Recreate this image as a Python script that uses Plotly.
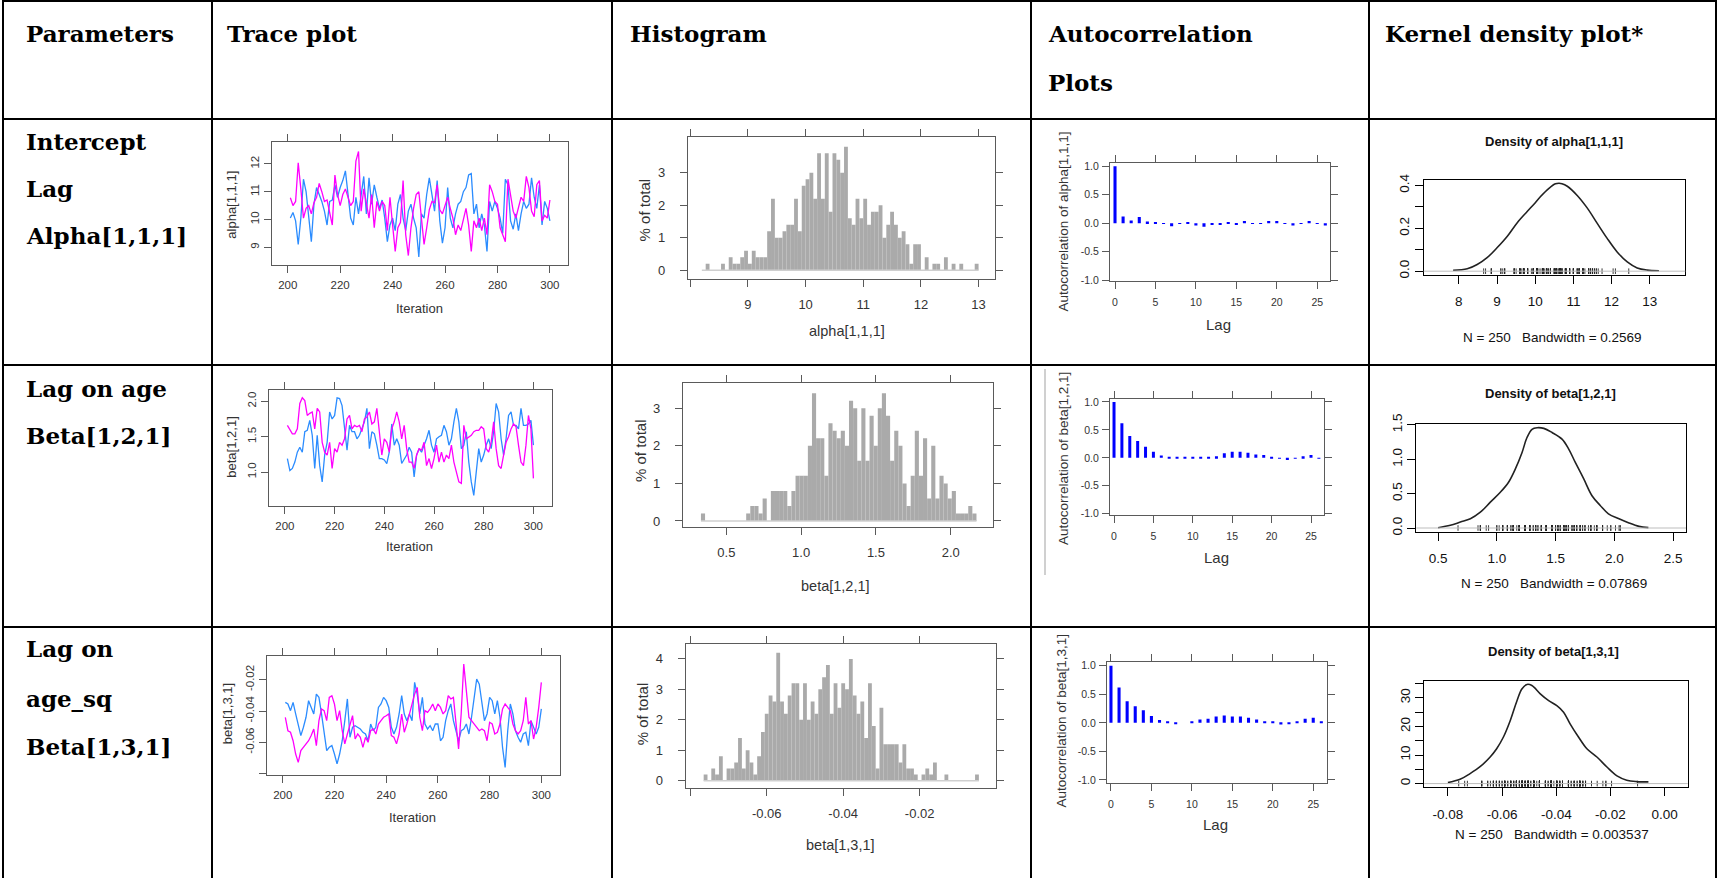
import plotly.graph_objects as go

W, H = 1718, 878

# ---------------- data ----------------
iterations = list(range(201, 301))

alpha_chain1 = [10.05, 10.25, 9.95, 9.1, 10.05, 11.45, 11.0, 10.05, 9.2, 10.55,
                11.15, 10.9, 10.65, 10.3, 9.8, 10.65, 10.7, 11.25, 10.8, 11.15,
                11.4, 11.75, 11.0, 10.05, 9.8, 10.8, 10.2, 10.9, 11.55, 10.2,
                11.5, 10.55, 11.25, 10.8, 10.4, 10.7, 10.05, 9.2, 9.8, 10.05,
                9.6, 10.55, 10.9, 10.05, 9.6, 10.3, 10.55, 10.05, 9.7, 8.65,
                10.2, 10.05, 10.9, 11.5, 10.8, 10.3, 11.4, 9.95, 9.15, 9.7,
                11.15, 10.05, 9.7, 10.2, 10.55, 10.65, 11.0, 11.15, 11.6, 11.65,
                10.2, 10.55, 9.7, 10.2, 9.8, 8.85, 10.65, 10.3, 10.65, 10.4,
                10.05, 9.5, 11.45, 11.25, 9.95, 9.65, 10.2, 9.6, 10.2, 10.65,
                10.4, 10.55, 11.5, 10.8, 10.4, 11.25, 9.8, 10.65, 10.4, 9.95]
alpha_chain2 = [10.78, 10.5, 10.65, 12.04, 11.1, 10.05, 10.4, 10.5, 10.2, 10.6,
                10.8, 11.3, 11.0, 10.65, 10.7, 10.3, 9.8, 11.6, 10.9, 10.5,
                10.9, 11.1, 10.8, 10.5, 10.65, 12.1, 12.45, 10.3, 11.1, 10.55,
                10.05, 10.9, 9.7, 10.65, 10.3, 10.65, 10.5, 9.6, 10.8, 9.8,
                8.85, 9.7, 9.9, 11.4, 9.45, 8.7, 9.7, 10.4, 10.9, 11.0,
                10.05, 9.1, 9.7, 10.35, 10.65, 10.6, 11.25, 10.35, 10.2, 10.55,
                10.8, 10.4, 10.05, 9.45, 9.8, 9.6, 9.95, 10.4, 9.8, 8.85,
                9.95, 9.7, 10.05, 9.6, 10.05, 9.45, 11.25, 11.0, 10.65, 10.55,
                9.7, 9.45, 9.2, 11.45, 10.9, 10.3, 10.05, 10.4, 10.8, 10.65,
                11.55, 11.15, 10.3, 10.1, 11.25, 11.4, 9.95, 10.15, 10.05, 10.7]

beta121_chain1 = [1.19, 1.02, 1.05, 1.14, 1.28, 1.35, 1.28, 1.57, 1.59, 1.73,
                  1.52, 1.05, 1.52, 1.09, 0.86, 1.24, 1.42, 1.85, 1.75, 1.80,
                  2.05, 2.04, 1.94, 1.61, 1.31, 1.66, 1.57, 1.57, 1.47, 1.52,
                  1.61, 1.71, 1.90, 1.33, 1.57, 1.54, 1.38, 1.19, 1.19, 1.17,
                  1.12, 1.28, 1.68, 1.38, 1.47, 1.38, 1.12, 1.19, 1.24, 1.35,
                  1.28, 0.93, 1.24, 1.33, 1.28, 1.38, 1.47, 1.59, 1.38, 1.28,
                  1.47, 1.50, 1.52, 1.66, 1.57, 1.38, 1.47, 1.71, 1.90, 1.71,
                  1.33, 1.38, 1.57, 1.14, 0.86, 0.67, 1.0, 1.33, 1.14, 1.24,
                  1.38, 1.47, 1.33, 1.57, 1.97, 1.85, 1.47, 1.24, 1.47, 1.80,
                  1.85, 1.66, 1.66, 1.61, 1.90, 1.66, 1.66, 1.68, 1.73, 1.38]
beta121_chain2 = [1.66, 1.59, 1.54, 1.54, 1.61, 1.97, 2.05, 2.01, 1.80, 1.83,
                  1.85, 1.61, 1.90, 1.85, 1.42, 1.28, 1.24, 1.42, 1.05, 1.33,
                  1.28, 1.42, 1.38, 1.47, 1.75, 1.80, 1.61, 1.66, 1.64, 1.66,
                  1.57, 1.75, 1.78, 1.85, 1.68, 1.71, 1.90, 1.57, 1.24, 1.47,
                  1.42, 1.28, 1.61, 1.71, 1.85, 1.71, 1.47, 1.66, 1.33, 1.14,
                  1.14, 1.05, 1.24, 1.33, 1.31, 1.42, 1.09, 1.19, 1.05, 1.19,
                  1.38, 1.14, 1.28, 1.14, 1.24, 1.19, 1.38, 1.14, 1.0, 0.86,
                  0.84, 1.66, 1.47, 1.50, 1.52, 1.57, 1.59, 1.59, 1.64, 1.61,
                  1.33, 1.28, 1.42, 1.71, 1.33, 1.09, 1.05, 1.24, 1.42, 1.50,
                  1.61, 1.68, 1.64, 1.38, 1.14, 1.09, 1.38, 1.80, 1.61, 0.91]

beta131_chain1 = [-0.0345, -0.0355, -0.0398, -0.0345, -0.0419, -0.0483, -0.0557, -0.0504, -0.0440, -0.0334,
                  -0.0377, -0.0419, -0.0292, -0.0313, -0.0419, -0.0526, -0.0653, -0.0632, -0.0621, -0.0675,
                  -0.0738, -0.0675, -0.0590, -0.0462, -0.0323, -0.0568, -0.0504, -0.0494, -0.0504, -0.0515,
                  -0.0536, -0.0547, -0.0590, -0.0483, -0.0526, -0.0504, -0.0377, -0.0355, -0.0313, -0.0334,
                  -0.0377, -0.0504, -0.0547, -0.0504, -0.0419, -0.0302, -0.0419, -0.0462, -0.0419, -0.0462,
                  -0.0217, -0.0292, -0.0419, -0.0313, -0.0483, -0.0515, -0.0494, -0.0526, -0.0483, -0.0483,
                  -0.0590, -0.0568, -0.0462, -0.0398, -0.0355, -0.0462, -0.0526, -0.0590, -0.0526, -0.0515,
                  -0.0483, -0.0547, -0.0440, -0.0313, -0.0196, -0.0228, -0.0355, -0.0462, -0.0419, -0.0313,
                  -0.0334, -0.0419, -0.0334, -0.0440, -0.0632, -0.0760, -0.0526, -0.0355, -0.0419, -0.0526,
                  -0.0568, -0.0600, -0.0547, -0.0536, -0.0621, -0.0462, -0.0504, -0.0547, -0.0504, -0.0387]
beta131_chain2 = [-0.0440, -0.0526, -0.0536, -0.0590, -0.0675, -0.0728, -0.0653, -0.0632, -0.0610, -0.0590,
                  -0.0557, -0.0515, -0.0621, -0.0462, -0.0387, -0.0398, -0.0462, -0.0313, -0.0302, -0.0355,
                  -0.0462, -0.0398, -0.0526, -0.0610, -0.0547, -0.0483, -0.0430, -0.0579, -0.0547, -0.0568,
                  -0.0632, -0.0568, -0.0600, -0.0526, -0.0515, -0.0547, -0.0483, -0.0462, -0.0440, -0.0430,
                  -0.0419, -0.0557, -0.0568, -0.0610, -0.0547, -0.0419, -0.0536, -0.0483, -0.0419, -0.0355,
                  -0.0292, -0.0249, -0.0440, -0.0526, -0.0398, -0.0409, -0.0387, -0.0355, -0.0398, -0.0355,
                  -0.0377, -0.0419, -0.0398, -0.0302, -0.0323, -0.0313, -0.0504, -0.0643, -0.0419, -0.0100,
                  -0.0270, -0.0440, -0.0462, -0.0483, -0.0504, -0.0526, -0.0515, -0.0526, -0.0590, -0.0472,
                  -0.0483, -0.0547, -0.0536, -0.0483, -0.0387, -0.0355, -0.0377, -0.0398, -0.0483, -0.0526,
                  -0.0547, -0.0526, -0.0462, -0.0313, -0.0483, -0.0462, -0.0579, -0.0504, -0.0377, -0.0217]

hist_alpha_start, hist_alpha_width = 8.2, 1 / 15
hist_alpha_pct = [0, 0.2, 0, 0, 0, 0.2, 0, 0.4, 0.2, 0.2,
                  0.4, 0.6, 0.2, 0.6, 0.4, 0.4, 0.4, 1.2, 2.2, 1.0,
                  1.0, 1.2, 1.4, 1.4, 2.2, 1.2, 2.6, 2.8, 3.0, 2.2,
                  3.6, 2.2, 3.6, 1.8, 3.6, 3.4, 3.0, 3.8, 1.6, 1.4,
                  2.2, 1.6, 2.2, 1.4, 1.8, 1.8, 2.0, 1.0, 1.4, 1.8,
                  1.4, 1.0, 1.2, 0.8, 0.2, 0.8, 0.8, 0, 0.4, 0,
                  0.2, 0.2, 0, 0.4, 0, 0.2, 0, 0.2, 0, 0,
                  0, 0.2]
hist_beta121_start, hist_beta121_width = 0.33, 0.0275
hist_beta121_pct = [0.2, 0, 0, 0, 0, 0, 0, 0, 0, 0,
                    0, 0.2, 0.4, 0.4, 0.2, 0.6, 0, 0.8, 0.8, 0.8,
                    0.8, 0.4, 0.8, 1.2, 1.2, 1.2, 2.0, 3.4, 2.2, 2.2,
                    1.2, 2.6, 2.4, 2.2, 2.4, 2.0, 3.2, 3.0, 1.6, 3.0,
                    1.6, 2.8, 2.0, 3.0, 3.4, 2.8, 1.6, 2.4, 2.0, 1.0,
                    0.4, 1.2, 2.4, 1.2, 2.2, 0.6, 2.0, 0.6, 1.2, 1.0,
                    0.6, 0.8, 0.2, 0.2, 0.2, 0.4, 0.2]
hist_beta131_start, hist_beta131_width = -0.0765, 0.001
hist_beta131_pct = [0.2, 0, 0.4, 0.2, 0.8, 0, 0.4, 0.4, 0.6, 1.4,
                    0.4, 1.0, 0.6, 0.2, 0.8, 1.6, 2.2, 2.8, 2.6, 4.2,
                    2.6, 2.2, 2.8, 3.2, 3.2, 2.0, 3.2, 2.0, 2.6, 2.2,
                    3.0, 3.4, 3.8, 2.2, 3.2, 2.4, 3.2, 3.0, 4.0, 2.8,
                    2.2, 2.6, 1.4, 3.2, 1.8, 0.4, 2.4, 1.2, 1.2, 1.2,
                    1.2, 0.6, 1.2, 0.4, 0.4, 0.2, 0, 0.2, 0.4, 0.2,
                    0.6, 0, 0, 0.2, 0, 0, 0, 0, 0, 0,
                    0, 0.2]

lags = list(range(0, 27))
acf_alpha = [1.0, 0.12, 0.05, 0.11, 0.03, 0.02, -0.01, -0.05, -0.01, 0.02,
             -0.04, -0.06, -0.02, -0.03, 0.02, -0.02, 0.04, -0.01, -0.01, 0.04,
             0.04, -0.01, -0.04, -0.01, 0.04, -0.01, -0.04]
acf_beta121 = [1.0, 0.62, 0.39, 0.30, 0.20, 0.11, 0.04, 0.01, 0.01, 0.01,
               0.02, 0.01, 0.01, 0.03, 0.08, 0.11, 0.11, 0.09, 0.06, 0.05,
               0.01, -0.01, -0.04, -0.01, 0.03, 0.05, -0.01]
acf_beta131 = [1.0, 0.62, 0.38, 0.29, 0.22, 0.12, 0.05, 0.03, -0.01, 0.0,
               0.01, 0.06, 0.07, 0.11, 0.13, 0.11, 0.11, 0.09, 0.06, 0.02,
               0.02, -0.03, -0.01, 0.02, 0.07, 0.09, 0.03]

dens_alpha_x = [7.85, 8.22, 8.48, 8.74, 9.0, 9.27, 9.53, 9.79, 9.96, 10.14, 10.36, 10.53,
                10.62, 10.7, 10.84, 11.1, 11.36, 11.62, 11.88, 12.14, 12.41, 12.67, 12.93, 13.24]
dens_alpha_y = [0.004, 0.011, 0.031, 0.063, 0.109, 0.163, 0.226, 0.278, 0.311, 0.348, 0.386, 0.407,
                0.41, 0.408, 0.396, 0.353, 0.295, 0.224, 0.154, 0.091, 0.043, 0.015, 0.005, 0.002]
dens_beta121_x = [0.5, 0.605, 0.69, 0.775, 0.86, 0.945, 1.03, 1.10, 1.158, 1.215, 1.257, 1.30, 1.343,
                  1.40, 1.47, 1.555, 1.612, 1.668, 1.74, 1.81, 1.88, 1.95, 2.04, 2.12, 2.21, 2.29]
dens_beta121_y = [0.005, 0.039, 0.087, 0.135, 0.23, 0.376, 0.52, 0.666, 0.86, 1.10, 1.317, 1.437, 1.46,
                  1.45, 1.39, 1.293, 1.148, 0.955, 0.714, 0.47, 0.328, 0.207, 0.135, 0.077, 0.024, 0.005]
dens_beta131_x = [-0.08, -0.0755, -0.0718, -0.068, -0.0644, -0.062, -0.0595, -0.057, -0.0545, -0.0527,
                  -0.0508, -0.049, -0.0459, -0.0428, -0.0398, -0.0373, -0.0349, -0.0318, -0.0287, -0.025,
                  -0.0213, -0.0176, -0.014, -0.0103, -0.006]
dens_beta131_y = [0.35, 1.5, 3.5, 6.0, 9.3, 12.2, 16.3, 22, 29, 33.1, 34.7, 34.3, 31.4, 29, 27.3, 25,
                  20.9, 16.3, 12.2, 9.3, 5.8, 2.7, 1.2, 0.7, 0.6]

param_names = ["alpha[1,1,1]", "beta[1,2,1]", "beta[1,3,1]"]
bandwidths = ["0.2569", "0.07869", "0.003537"]
n_samples = 250

# ---------------- styling ----------------
SANS = "Liberation Sans, Arial, sans-serif"
SERIF = "DejaVu Serif, serif"
BLUE = "#2b8cff"
MAGENTA = "#ff00ff"
FRAME = "#5a5a5a"
TXT = "#333333"

fig = go.Figure()
layout = dict(width=W, height=H, margin=dict(l=0, r=0, t=0, b=0, autoexpand=False),
              paper_bgcolor="white", plot_bgcolor="white", showlegend=False)


def sfx(n):
    return "" if n == 1 else str(n)


def add_axes(n, box, xr, yr, xtv, xtt, ytv, ytt, style, fs, xstand, ystand, yangle):
    x0, y0, x1, y1 = box
    if style == "base":
        col, lw, tl, xm, ym = "black", 1, 8, True, True
    elif style == "trace":
        col, lw, tl, xm, ym = FRAME, 1.3, 7, "allticks", True
    else:
        col, lw, tl, xm, ym = FRAME, 1.3, 7, "allticks", "allticks"
    common = dict(showgrid=False, zeroline=False, showline=True, linecolor=col, linewidth=lw,
                  ticks="outside", ticklen=tl, tickwidth=lw, tickcolor=col, tickmode="array",
                  fixedrange=True, automargin=False,
                  tickfont=dict(family=SANS, size=fs, color=TXT if style != "base" else "#111"))
    layout["xaxis" + sfx(n)] = dict(common, domain=[x0 / W, x1 / W], range=xr, anchor="y" + sfx(n),
                                    mirror=xm, tickvals=xtv, ticktext=xtt, ticklabelstandoff=xstand)
    layout["yaxis" + sfx(n)] = dict(common, domain=[1 - y1 / H, 1 - y0 / H], range=yr, anchor="x" + sfx(n),
                                    mirror=ym, tickvals=ytv, ticktext=ytt, ticklabelstandoff=ystand,
                                    tickangle=yangle)


annotations = []
shapes = []


def txt(x, y, s, size, color=TXT, family=SANS, bold=False, angle=0, xanchor="center"):
    annotations.append(dict(x=x / W, y=1 - y / H, xref="paper", yref="paper", text=s, showarrow=False,
                            textangle=angle, xanchor=xanchor, yanchor="middle",
                            font=dict(family=family, size=size, color=color,
                                      weight="bold" if bold else "normal")))


# ---------------- panels ----------------
chains = [(alpha_chain1, alpha_chain2), (beta121_chain1, beta121_chain2), (beta131_chain1, beta131_chain2)]
hists = [(hist_alpha_start, hist_alpha_width, hist_alpha_pct),
         (hist_beta121_start, hist_beta121_width, hist_beta121_pct),
         (hist_beta131_start, hist_beta131_width, hist_beta131_pct)]
acfs = [acf_alpha, acf_beta121, acf_beta131]
dens = [(dens_alpha_x, dens_alpha_y), (dens_beta121_x, dens_beta121_y), (dens_beta131_x, dens_beta131_y)]

trace_boxes = [(272, 142, 568, 265), (269, 390.3, 552.3, 506), (266.7, 655.7, 559.7, 774.7)]
trace_yr = [[8.36, 12.79], [0.519, 2.156], [-0.0807, -0.00467]]
trace_xr = [[194.0, 306.9], [193.6, 307.6], [193.8, 307.1]]
trace_yt = [([9, 10, 11, 12], ["9", "10", "11", "12"]),
            ([1.0, 1.5, 2.0], ["1.0", "1.5", "2.0"]),
            ([-0.08, -0.06, -0.04, -0.02], ["", "-0.06", "-0.04", "-0.02"])]
trace_xlab = [(419, 308), (409, 546), (412.3, 817.3)]
trace_ylab = [(232, 204.7), (230.7, 447), (227.3, 714)]

hist_boxes = [(688, 137, 994.7, 279), (683, 383, 993.3, 527), (685.7, 644, 995.7, 788)]
hist_xr = [[7.96, 13.28], [0.21, 2.285], [-0.0812, -0.0001]]
hist_yr = [[-0.27, 4.10], [-0.16, 3.67], [-0.24, 4.49]]
hist_xt = [([8, 9, 10, 11, 12, 13], ["", "9", "10", "11", "12", "13"]),
           ([0.5, 1.0, 1.5, 2.0], ["0.5", "1.0", "1.5", "2.0"]),
           ([-0.08, -0.06, -0.04, -0.02], ["", "-0.06", "-0.04", "-0.02"])]
hist_yt = [([0, 1, 2, 3], ["0", "1", "2", "3"]),
           ([0, 1, 2, 3], ["0", "1", "2", "3"]),
           ([0, 1, 2, 3, 4], ["0", "1", "2", "3", "4"])]
hist_xlab = [(847.3, 331.3), (835.7, 586), (840.7, 845)]
hist_ylab = [(644.7, 209.7), (640.7, 450.3), (642.3, 714)]

acf_boxes = [(1110, 163, 1330, 281.3), (1110, 398.7, 1324, 515.3), (1107, 662.3, 1327, 783.3)]
acf_xr = [[-0.62, 26.58], [-0.51, 26.65], [-0.49, 26.7]]
acf_yr = [[-1.018, 1.058], [-1.029, 1.059], [-1.058, 1.06]]
acf_xlab = [(1218.3, 324.7), (1216.7, 557), (1215, 824)]
acf_ylab = [(1063.3, 221.3), (1063.3, 458.7), (1061.7, 720.7)]

dens_boxes = [(1423.7, 179.7, 1685.3, 274.7), (1416.3, 423.7, 1686, 532), (1424.3, 680.7, 1687.7, 787.3)]
dens_xr = [[7.08, 13.93], [0.315, 2.61], [-0.0887, 0.0085]]
dens_yr = [[-0.0164, 0.4264], [-0.058, 1.518], [-1.3, 36.0]]
dens_xt = [([8, 9, 10, 11, 12, 13], ["8", "9", "10", "11", "12", "13"]),
           ([0.5, 1.0, 1.5, 2.0, 2.5], ["0.5", "1.0", "1.5", "2.0", "2.5"]),
           ([-0.08, -0.06, -0.04, -0.02, 0.0], ["-0.08", "-0.06", "-0.04", "-0.02", "0.00"])]
dens_yt = [([0, 0.1, 0.2, 0.3, 0.4], ["0.0", "", "0.2", "", "0.4"]),
           ([0, 0.5, 1.0, 1.5], ["0.0", "0.5", "1.0", "1.5"]),
           ([0, 5, 10, 15, 20, 25, 30, 35], ["0", "", "10", "", "20", "", "30", ""])]
dens_title = [(1553.7, 141), (1550, 393.7), (1553, 651.3)]
dens_sub = [(1552, 338), (1553.7, 583.7), (1552, 834)]

acf_ticks = ([0, 5, 10, 15, 20, 25], ["0", "5", "10", "15", "20", "25"])
acf_yticks = ([-1.0, -0.5, 0.0, 0.5, 1.0], ["-1.0", "-0.5", "0.0", "0.5", "1.0"])
trace_xticks = ([200, 220, 240, 260, 280, 300], ["200", "220", "240", "260", "280", "300"])

for r in range(3):
    base = r * 4
    name = param_names[r]

    # trace plot
    n = base + 1
    add_axes(n, trace_boxes[r], trace_xr[r], trace_yr[r], trace_xticks[0], trace_xticks[1],
             trace_yt[r][0], trace_yt[r][1], "trace", 11.5, 2, 0, -90)
    c1, c2 = chains[r]
    fig.add_trace(go.Scatter(x=iterations, y=c1, mode="lines", line=dict(color=BLUE, width=1.3),
                             xaxis="x" + sfx(n), yaxis="y" + sfx(n)))
    fig.add_trace(go.Scatter(x=iterations, y=c2, mode="lines", line=dict(color=MAGENTA, width=1.3),
                             xaxis="x" + sfx(n), yaxis="y" + sfx(n)))
    txt(*trace_xlab[r], "Iteration", 13)
    txt(*trace_ylab[r], name, 13, angle=-90)

    # histogram
    n = base + 2
    add_axes(n, hist_boxes[r], hist_xr[r], hist_yr[r], hist_xt[r][0], hist_xt[r][1],
             hist_yt[r][0], hist_yt[r][1], "lattice", 13, 6, 12, 0)
    start, width, pct = hists[r]
    centers = [start + width * (i + 0.5) for i in range(len(pct))]
    fig.add_trace(go.Scatter(x=[start, start + width * len(pct)], y=[0, 0], mode="lines",
                             line=dict(color="#cfcfcf", width=1.5),
                             xaxis="x" + sfx(n), yaxis="y" + sfx(n)))
    fig.add_trace(go.Bar(x=centers, y=pct, width=width, marker=dict(color="#aaaaaa", line=dict(width=0)),
                         xaxis="x" + sfx(n), yaxis="y" + sfx(n)))
    txt(*hist_xlab[r], name, 14.5)
    txt(*hist_ylab[r], "% of total", 15, angle=-90)

    # autocorrelation
    n = base + 3
    add_axes(n, acf_boxes[r], acf_xr[r], acf_yr[r], acf_ticks[0], acf_ticks[1],
             acf_yticks[0], acf_yticks[1], "lattice", 10.5, 4, 1, 0)
    fig.add_trace(go.Bar(x=lags, y=acfs[r], width=0.38, marker=dict(color="#0000ff", line=dict(width=0)),
                         xaxis="x" + sfx(n), yaxis="y" + sfx(n)))
    txt(*acf_xlab[r], "Lag", 15)
    txt(*acf_ylab[r], "Autocorrelation of " + name, 13.5, angle=-90)

    # kernel density
    n = base + 4
    add_axes(n, dens_boxes[r], dens_xr[r], dens_yr[r], dens_xt[r][0], dens_xt[r][1],
             dens_yt[r][0], dens_yt[r][1], "base", 13.5, 6, 0, -90)
    shapes.append(dict(type="line", xref="x" + sfx(n) + " domain", yref="y" + sfx(n), x0=0, x1=1, y0=0, y1=0,
                       line=dict(color="#bdbdbd", width=1)))
    dx, dy = dens[r]
    fig.add_trace(go.Scatter(x=dx, y=dy, mode="lines", line=dict(color="#222222", width=1.6, shape="spline"),
                             xaxis="x" + sfx(n), yaxis="y" + sfx(n)))
    rug = chains[r][0] + chains[r][1]
    fig.add_trace(go.Scatter(x=rug, y=[0] * len(rug), mode="markers",
                             marker=dict(symbol="line-ns-open", size=4, color="#222222",
                                         line=dict(color="#222222", width=0.9)),
                             xaxis="x" + sfx(n), yaxis="y" + sfx(n)))
    txt(*dens_title[r], "Density of " + name, 13, color="#111", bold=True)
    txt(*dens_sub[r], f"N = {n_samples}\u00a0\u00a0\u00a0Bandwidth = {bandwidths[r]}", 13.5, color="#111")

# ---------------- table frame and text ----------------
for y in [1, 119, 365, 627]:
    shapes.append(dict(type="line", xref="paper", yref="paper", x0=3 / W, x1=1716 / W,
                       y0=1 - y / H, y1=1 - y / H, line=dict(color="black", width=2)))
for x in [3, 212, 612, 1031, 1369, 1716]:
    shapes.append(dict(type="line", xref="paper", yref="paper", x0=x / W, x1=x / W,
                       y0=0, y1=1, line=dict(color="black", width=2)))
shapes.append(dict(type="line", xref="paper", yref="paper", x0=1045 / W, x1=1045 / W,
                   y0=1 - 575 / H, y1=1 - 369 / H, line=dict(color="#d0d0d0", width=2)))

HF = 23
headers = [(24, 33, "Parameters"), (225, 33, "Trace plot"), (628, 33, "Histogram"),
           (1046, 33, "Autocorrelation"), (1046, 82, "Plots"), (1383, 33, "Kernel density plot*")]
for x, y, s in headers:
    txt(x, y, s, HF, color="black", family=SERIF, bold=True, xanchor="left")
rows = [(142, "Intercept"), (188.5, "Lag"), (235.6, "Alpha[1,1,1]"),
        (389, "Lag on age"), (436, "Beta[1,2,1]"),
        (648.6, "Lag on"), (698, "age_sq"), (746, "Beta[1,3,1]")]
for y, s in rows:
    txt(24, y, s, HF, color="black", family=SERIF, bold=True, xanchor="left")

layout["annotations"] = annotations
layout["shapes"] = shapes
fig.update_layout(**layout)
fig.write_html(
    "out.html",
    config={"displayModeBar": False, "responsive": False},
    post_script=("var d=document.getElementById('{plot_id}');"
                 "d.style.position='fixed';d.style.left='0px';d.style.top='0px';"
                 "document.body.style.margin='0px';document.body.style.overflow='hidden';"),
)
